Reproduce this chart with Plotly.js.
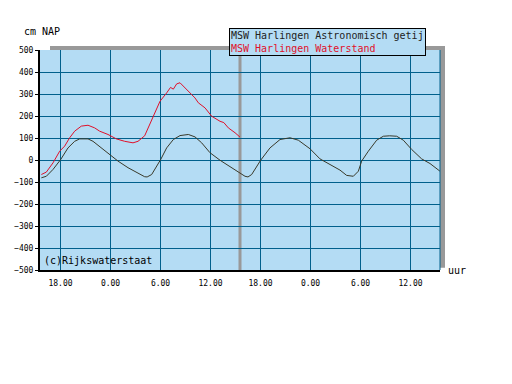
<!DOCTYPE html>
<html>
<head>
<meta charset="utf-8">
<script src="https://cdn.plot.ly/plotly-3.0.1.min.js"></script>
<style>html,body{margin:0;padding:0;background:#fff}#chart{width:512px;height:384px}</style>
</head>
<body>
<div id="chart"></div>
<script>
// hours relative to midnight of day 2 (0 = 0.00)
const astroHours = [-8.30,-7.70,-6.90,-5.98,-5.10,-4.30,-3.70,-3.18,-2.70,-2.10,-1.10,0.02,0.90,2.10,3.30,4.10,4.40,4.94,6.02,6.74,7.54,8.34,9.34,10.14,10.94,11.94,13.14,14.34,15.34,16.14,16.50,16.94,18.02,19.14,20.34,21.54,22.54,23.94,25.14,26.34,27.54,28.34,29.14,29.74,30.14,30.94,31.94,32.74,33.50,34.34,35.14,36.14,37.34,38.34,39.54];
const astroValues = [-81,-74,-43,2,55,85,96,97,96,85,55,20,-5,-35,-61,-76,-77,-66,2,55,93,111,116,105,78,33,-1,-31,-55,-74,-77,-66,-1,55,93,101,90,51,5,-20,-46,-70,-74,-51,-5,40,90,108,110,108,90,48,5,-16,-51];
const waterHours = [-8.30,-7.70,-6.90,-6.10,-5.50,-4.90,-4.30,-3.50,-2.70,-2.30,-1.90,-1.30,-0.30,0.70,1.70,2.70,3.30,4.10,5.14,5.94,6.74,7.20,7.54,7.94,8.34,8.94,9.34,9.74,10.14,10.54,11.34,12.14,13.14,13.60,14.14,14.94,15.54];
const waterValues = [-66,-55,-13,40,63,101,131,154,158,152,146,131,116,96,85,78,85,110,199,267,305,330,322,346,351,328,310,298,282,260,237,199,176,170,146,124,104];
const tickVals = [-6,0,6,12,18,24,30,36];
const tickText = ['18.00','0.00','6.00','12.00','18.00','0.00','6.00','12.00'];
const nowHour = 15.54;
const seriesNames = ['MSW Harlingen Astronomisch getij','MSW Harlingen Waterstand'];

const mono = 'DejaVu Sans Mono, monospace';
const traces = [
  {x: astroHours, y: astroValues, type: 'scatter', mode: 'lines', name: seriesNames[0],
   line: {color: '#3a3a2a', width: 1}},
  {x: waterHours, y: waterValues, type: 'scatter', mode: 'lines', name: seriesNames[1],
   line: {color: '#e0102a', width: 1}}
];
const layout = {
  width: 512, height: 384,
  margin: {l: 40, r: 72, t: 50, b: 114},
  paper_bgcolor: '#ffffff',
  plot_bgcolor: 'rgba(0,0,0,0)',
  showlegend: false,
  font: {family: mono, size: 8, color: '#000'},
  xaxis: {range: [-8.46, 39.54], tickvals: tickVals, ticktext: tickText,
    showgrid: true, gridcolor: '#00608c', gridwidth: 1, zeroline: false,
    showline: true, linecolor: '#000', linewidth: 2, ticks: '', ticklen: 0, ticklabelstandoff: 4,
    tickfont: {family: mono, size: 8, color: '#000'}, fixedrange: true},
  yaxis: {range: [-500, 500], tickvals: [-500,-400,-300,-200,-100,0,100,200,300,400,500],
    showgrid: true, gridcolor: '#00608c', gridwidth: 1, zeroline: false,
    showline: true, linecolor: '#000', linewidth: 2, ticks: 'outside', ticklen: 3, tickcolor: '#000',
    tickfont: {family: mono, size: 8, color: '#000'}, fixedrange: true},
  shapes: [
    {type: 'rect', xref: 'paper', yref: 'paper', x0: 0.025, x1: 1.0125, y0: 0.01, y1: 1.018,
     fillcolor: '#999999', line: {width: 0}, layer: 'below'},
    {type: 'rect', xref: 'paper', yref: 'paper', x0: 0, x1: 1, y0: 0, y1: 1,
     fillcolor: '#b4dcf4', line: {width: 0}, layer: 'below'},
    {type: 'line', xref: 'paper', yref: 'paper', x0: 1, x1: 1, y0: 0, y1: 1,
     line: {color: '#00608c', width: 1}, layer: 'above'},
    {type: 'line', xref: 'x', yref: 'paper', x0: nowHour, x1: nowHour, y0: 0, y1: 1.018,
     line: {color: '#999999', width: 3}, layer: 'between'}
  ],
  annotations: [
    {xref: 'paper', yref: 'paper', x: -0.045, y: 1.05, xanchor: 'left', yanchor: 'bottom',
     text: 'cm NAP', showarrow: false, font: {family: mono, size: 10, color: '#000'}},
    {xref: 'paper', yref: 'paper', x: 1.015, y: 0.0, xanchor: 'left', yanchor: 'middle',
     text: 'uur', showarrow: false, font: {family: mono, size: 10, color: '#000'}},
    {xref: 'paper', yref: 'paper', x: 0.005, y: 0.045, xanchor: 'left', yanchor: 'middle',
     text: '(c)Rijkswaterstaat', showarrow: false, font: {family: mono, size: 10, color: '#000'}},
    {xref: 'paper', yref: 'paper', x: 0.4725, y: 1.098, xanchor: 'left', yanchor: 'top',
     align: 'left', showarrow: false, bgcolor: '#b4dcf4', bordercolor: '#000', borderwidth: 1, borderpad: 1,
     text: seriesNames[0] + '<br><span style="color:#e0102a">' + seriesNames[1] + '</span>',
     font: {family: mono, size: 10, color: '#222'}}
  ]
};
Plotly.newPlot('chart', traces, layout, {displayModeBar: false, staticPlot: true});
</script>
</body>
</html>
